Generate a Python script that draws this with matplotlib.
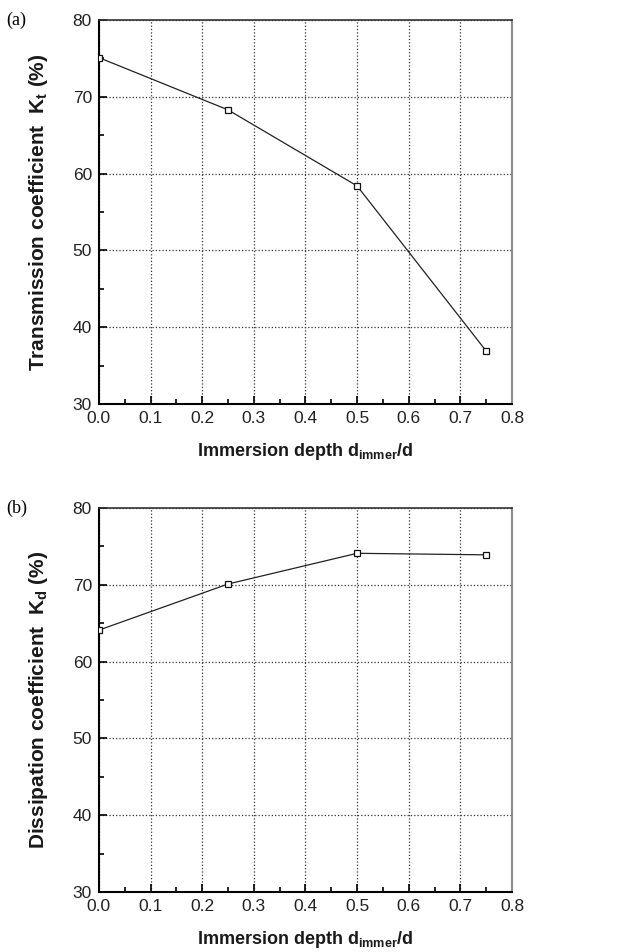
import matplotlib
matplotlib.use("Agg")
import matplotlib.pyplot as plt
from matplotlib.ticker import MultipleLocator

plt.rcParams['font.family'] = ['Liberation Sans', 'DejaVu Sans']
plt.rcParams['mathtext.default'] = 'regular'

depth = [0.0, 0.25, 0.5, 0.75]
transmission = [75.1, 68.3, 58.4, 36.9]
dissipation = [64.1, 70.1, 74.1, 73.9]

x_ticks = [0.0, 0.1, 0.2, 0.3, 0.4, 0.5, 0.6, 0.7, 0.8]
y_ticks = [30, 40, 50, 60, 70, 80]

fig = plt.figure(figsize=(6.38, 9.52), dpi=100)
ax_a = fig.add_axes([0.155, 0.5756, 0.6475, 0.4034])
ax_b = fig.add_axes([0.155, 0.0630, 0.6475, 0.4034])

panels = [
    (ax_a, transmission, r"Transmission coefficient  K$_{t}$ (%)", "(a)"),
    (ax_b, dissipation, r"Dissipation coefficient  K$_{d}$ (%)", "(b)"),
]

for ax, values, ylabel, tag in panels:
    ax.plot(depth, values, color='#222222', lw=0.9, marker='s', ms=5,
            mfc='white', mec='#111111', mew=0.9, zorder=3)
    ax.set_xlim(0, 0.8)
    ax.set_ylim(30, 80)
    ax.set_xticks(x_ticks)
    ax.set_xticklabels([f"{v:.1f}" for v in x_ticks])
    ax.set_yticks(y_ticks)
    ax.xaxis.set_minor_locator(MultipleLocator(0.05))
    ax.yaxis.set_minor_locator(MultipleLocator(5))
    ax.tick_params(which='both', direction='in', top=False, right=False,
                   labelsize=12.5, width=1.2, color='black', labelcolor='#222222')
    ax.tick_params(axis='x', which='major', length=6, pad=5)
    ax.tick_params(axis='y', which='major', length=6, pad=5)
    ax.tick_params(which='minor', length=3.5)
    ax.grid(True, which='major', ls=':', color='#333333', lw=0.9)
    for side in ['left', 'bottom']:
        ax.spines[side].set_linewidth(1.5)
        ax.spines[side].set_color('black')
    ax.spines['top'].set_linewidth(1.2)
    ax.spines['top'].set_color('#333333')
    ax.spines['right'].set_linewidth(1.5)
    ax.spines['right'].set_color('#8c8c8c')
    ax.set_xlabel(r"Immersion depth d$_{immer}$/d", fontsize=13, fontweight='bold',
                  labelpad=11, color='#1a1a1a')
    ax.set_ylabel(ylabel, fontsize=15, fontweight='bold',
                  labelpad=16, color='#1a1a1a')
    ax.text(-0.225, 1.0, tag, transform=ax.transAxes, fontsize=13,
            family='Liberation Serif', ha='left', va='center')

fig.savefig('out.png', dpi=100)
